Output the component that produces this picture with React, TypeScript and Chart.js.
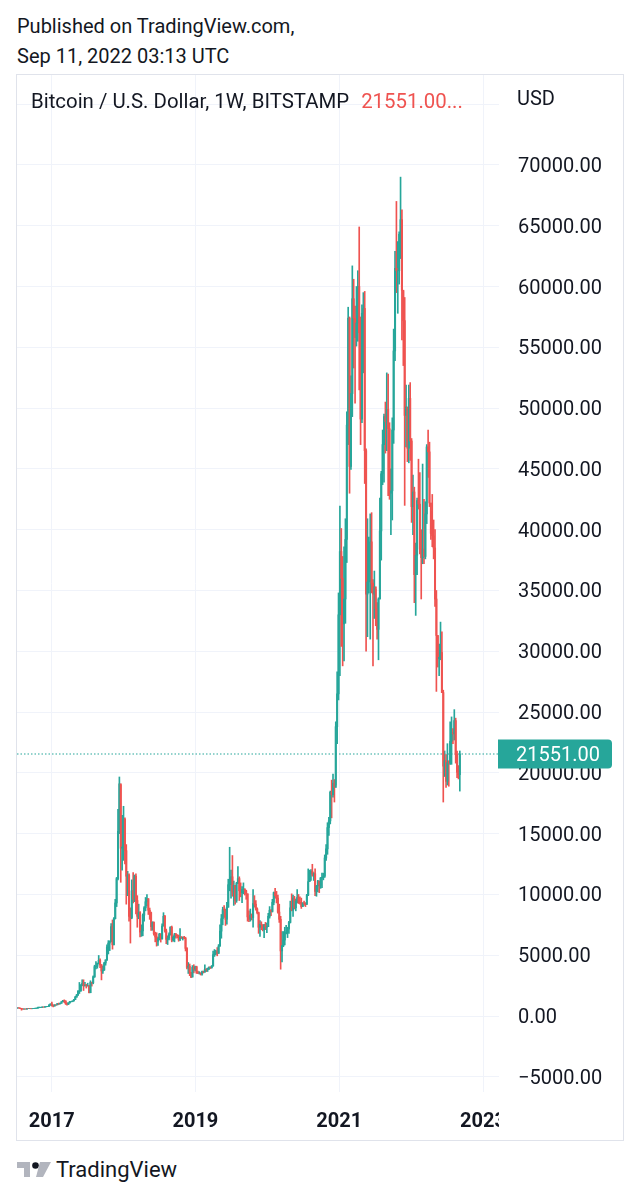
import React, { useEffect, useRef } from "react";
import { Chart, registerables } from "chart.js";

Chart.register(...registerables);

// ---- data (weekly BTC/USD candles, Bitstamp, weeks start Monday) ----
const firstWeek = "2016-07-11";
const firstOpen = 650;

const closes = [
  // 2016 (from Jul 11)
  675, 655, 624, 587, 568, 581, 573, 608, 607, 607, 600, 612, 618, 641, 656, 702, 704, 704, 740, 730, 765, 775, 790, 895, 998,
  // 2017
  900, 820, 920, 915, 1020, 995, 1050, 1180, 1270, 1230, 1020, 970, 1080, 1180, 1180, 1240, 1350, 1550, 1720, 2040, 2050, 2550,
  2680, 2500, 2550, 2500, 2500, 1920, 2760, 2730, 3230, 4060, 4090, 4330, 4580, 4200, 3700, 3780, 4360, 4610, 5680, 6000, 6150,
  7350, 5860, 8000, 9300, 11300, 15200, 19100, 13800, 13900,
  // 2018
  16200, 13600, 11500, 11600, 8200, 8100, 10300, 9600, 11500, 9500, 8200, 8500, 6900, 7000, 8300, 8900, 9400, 9650, 8700, 8500,
  7350, 7700, 6770, 6500, 6150, 6370, 6730, 6350, 7400, 8200, 7000, 6300, 6400, 6700, 7300, 6250, 6500, 6700, 6620, 6590, 6300,
  6500, 6440, 6480, 6380, 5560, 4000, 4100, 3600, 3200, 4000, 3850,
  // 2019 (from Dec 31, 2018)
  4050, 3550, 3540, 3540, 3450, 3650, 3610, 3830, 3800, 3910, 3990, 3980, 4110, 5050, 5150, 5300, 5150, 5750, 6980, 8000, 8750,
  8720, 7950, 8950, 10800, 10800, 11450, 10200, 10750, 9500, 10900, 11300, 10300, 10150, 10400, 10400, 10300, 10050, 8150, 7950,
  8300, 8100, 9250, 9200, 8800, 8500, 7300, 7550, 7500, 7100, 7500, 7300, 7350,
  // 2020
  8200, 8700, 8600, 9350, 10150, 9900, 9700, 8550, 7950, 5350, 5800, 6250, 6800, 6900, 7150, 7700, 8900, 8700, 9700, 8900, 9450,
  9750, 9350, 9300, 9000, 9300, 9250, 9200, 9950, 11050, 11700, 11900, 11650, 11700, 10250, 10700, 11100, 10750, 11350, 11400,
  11500, 13000, 13750, 15500, 16050, 18400, 18200, 19150, 18800, 23800, 26500, 33000,
  // 2021
  38200, 36000, 32250, 34300, 39200, 48600, 57400, 45200, 51200, 59000, 57400, 55800, 57000, 60000, 56200, 49100, 57800, 58200,
  46500, 34700, 35700, 35800, 39000, 35600, 34700, 35300, 33500, 31800, 34300, 39900, 44600, 47000, 49300, 48900, 49900, 48300,
  43000, 43200, 48200, 54700, 61500, 61300, 61300, 64300, 65500, 59700, 57200, 49400, 50100, 46700, 50800, 47300,
  // 2022
  41900, 43100, 36300, 37900, 42400, 42100, 38400, 37700, 38400, 37800, 41300, 46800, 46400, 42200, 39700, 39500, 38500, 34300,
  31300, 29400, 29500, 29900, 26600, 20550, 21000, 19300, 20850, 20800, 22600, 23300, 23200, 24300, 21500, 20050, 19850, 21551,
];

const highs = [
  // 2016
  680, 680, 660, 627, 600, 584, 588, 614, 633, 612, 610, 615, 620, 646, 660, 740, 740, 725, 755, 750, 770, 780, 795, 935, 1000,
  // 2017
  1150, 910, 930, 925, 1045, 1065, 1055, 1185, 1290, 1330, 1260, 1080, 1090, 1200, 1210, 1250, 1370, 1620, 1780, 2100, 2760, 2580,
  2980, 2980, 2780, 2600, 2700, 2500, 2900, 2790, 3300, 4180, 4480, 4360, 4980, 4700, 4240, 4100, 4420, 4630, 5850, 6200, 6180,
  7600, 7900, 8100, 9600, 11400, 17000, 19660, 19000, 16500,
  // 2018
  17250, 16300, 14100, 11900, 11700, 8900, 11200, 11800, 11600, 11700, 9900, 9200, 8600, 7500, 8400, 9000, 9750, 9990, 9650, 8880,
  8550, 7760, 7750, 6900, 6850, 6500, 6800, 6780, 7580, 8500, 8280, 7150, 6600, 6850, 7350, 7400, 6600, 6800, 6800, 6700, 6660,
  7200, 6530, 6500, 6550, 6480, 5620, 4400, 4280, 3600, 4150, 4220,
  // 2019
  4100, 4100, 3700, 3650, 3550, 3700, 3700, 4200, 3900, 3950, 4050, 4060, 4150, 5350, 5470, 5400, 5630, 5880, 7500, 8350, 8950,
  9090, 8800, 9350, 11250, 13880, 12000, 13200, 11100, 10650, 11000, 12300, 11450, 10950, 10650, 10950, 10480, 10350, 10050, 8650,
  8800, 8400, 10400, 9900, 9500, 8900, 8550, 7850, 7750, 7500, 7550, 7700, 7650,
  // 2020
  8450, 9000, 8750, 9600, 10200, 10500, 10250, 9950, 9200, 8200, 6950, 6950, 7300, 7450, 7300, 7780, 9450, 10050, 9950, 9850, 9600,
  10400, 10000, 9800, 9700, 9320, 9450, 9330, 10000, 12100, 12000, 12050, 12480, 11800, 12100, 10750, 11150, 11100, 11400, 11750,
  11750, 13250, 14100, 15900, 16350, 18500, 19400, 19900, 19450, 24200, 28300, 34800,
  // 2021
  41950, 40100, 37800, 38600, 40900, 49700, 58300, 57500, 52650, 61700, 60600, 58400, 60000, 61300, 64900, 57500, 58500, 59500,
  59600, 46650, 40900, 39400, 41300, 41400, 35900, 36600, 35100, 34000, 34400, 42600, 44800, 48200, 49500, 50500, 52900, 52800,
  48800, 45000, 49200, 56500, 62900, 67000, 63700, 64500, 69000, 66300, 59600, 59100, 51900, 49500, 51900, 52100,
  // 2022
  47500, 44500, 43500, 38900, 42600, 45800, 44700, 40000, 45400, 42500, 42300, 47000, 48200, 47200, 41500, 42900, 40800, 40000,
  35000, 31300, 30600, 32400, 31600, 26800, 21800, 21500, 22400, 21000, 24200, 24600, 23650, 25200, 24500, 21800, 20600, 21800,
];

const lows = [
  // 2016
  645, 648, 610, 480, 562, 563, 566, 568, 604, 600, 592, 598, 606, 631, 626, 650, 680, 690, 700, 725, 725, 750, 770, 790, 880,
  // 2017
  810, 750, 810, 880, 915, 945, 985, 1050, 1180, 1100, 950, 890, 940, 1060, 1150, 1170, 1240, 1350, 1550, 1700, 1850, 2050,
  2480, 2100, 2460, 2300, 2450, 1900, 1910, 2460, 2650, 3170, 3880, 3930, 4280, 3980, 2970, 3500, 3750, 4180, 4580, 5100, 5380,
  6100, 5500, 5850, 7980, 9000, 11200, 15000, 11000, 12000,
  // 2018
  12800, 12500, 9200, 9900, 7800, 6000, 8000, 9300, 9400, 8400, 7300, 8000, 6500, 6550, 6600, 7800, 8650, 9050, 8350, 7950,
  7050, 7050, 6650, 6100, 5750, 5800, 6250, 6080, 6330, 7400, 6900, 5950, 5880, 6250, 6650, 6100, 6150, 6100, 6400, 6430, 6150,
  6200, 6370, 6250, 6360, 5350, 3870, 3500, 3320, 3150, 3210, 3550,
  // 2019
  3700, 3500, 3480, 3450, 3370, 3350, 3540, 3600, 3650, 3660, 3820, 3900, 3930, 4100, 4900, 5030, 4950, 5150, 5750, 6400, 7500,
  8100, 7450, 7550, 8950, 10300, 9700, 9850, 9100, 9200, 9350, 10900, 9500, 9800, 9320, 10050, 9950, 9600, 7800, 7750,
  7800, 7900, 7300, 8950, 8700, 8400, 6800, 6550, 7100, 7000, 6450, 7100, 6850,
  // 2020
  7700, 8050, 8250, 8550, 9150, 9700, 9300, 8450, 7700, 3850, 4450, 5700, 5850, 6750, 6450, 6800, 7650, 8650, 8200, 8800, 8650,
  9300, 9250, 9200, 8850, 9000, 9100, 9000, 9150, 9900, 11100, 11150, 11500, 11150, 9900, 9850, 10200, 10150, 10500, 10550,
  11200, 11400, 12800, 13300, 14850, 15800, 16300, 18000, 17600, 19000, 22400, 26000,
  // 2021
  28000, 30400, 28800, 29200, 32300, 37300, 47000, 43000, 44950, 49300, 53300, 50400, 55100, 55500, 51500, 47000, 48800, 52900,
  43800, 30000, 31200, 34800, 31000, 34800, 28800, 32700, 32100, 31000, 29300, 34300, 37500, 43700, 43900, 46300, 46500, 42800,
  42500, 39600, 40800, 47100, 53900, 59500, 57800, 60200, 62300, 55600, 53500, 42000, 46800, 45600, 45500, 45700,
  // 2022
  40600, 39600, 34000, 32950, 36300, 41700, 38000, 34300, 37200, 37200, 37600, 40500, 44300, 41900, 39200, 38600, 37600, 33700,
  26700, 28700, 28000, 29300, 26600, 17600, 19700, 18800, 19000, 18900, 20700, 20700, 22400, 22700, 20800, 19600, 19500, 18500,
];

const yearTicks = [2017, 2019, 2021, 2023];
const priceTicks = [-5000, 0, 5000, 10000, 15000, 20000, 25000, 30000, 35000, 40000, 45000, 50000, 55000, 60000, 65000, 70000, 75000];
const lastPrice = 21551;
const symbolTitle = "Bitcoin / U.S. Dollar, 1W, BITSTAMP";
const currency = "USD";

const UP = "#26a69a";
const DOWN = "#ef5350";
const GRID = "#f0f3fa";
const TEXT = "#131722";

const DAY = 86400000;
const xMin = Date.UTC(2016, 6, 9);
const xMax = Date.UTC(2023, 2, 23);
const yMin = -6250;
const yMax = 77400;

const fmt = (v: number) => (v < 0 ? "\u2212" + Math.abs(v).toFixed(2) : v.toFixed(2));

export default function App() {
  const ref = useRef<HTMLCanvasElement | null>(null);

  useEffect(() => {
    const t0 = Date.parse(firstWeek + "T00:00:00Z");
    const candles = closes.map((c, i) => ({
      x: t0 + i * 7 * DAY,
      o: i === 0 ? firstOpen : closes[i - 1],
      h: highs[i],
      l: lows[i],
      c,
    }));
    const colors = candles.map((k) => (k.c >= k.o ? UP : DOWN));

    const priceLabel = {
      id: "priceLabel",
      afterDraw(chart: any) {
        const { ctx, chartArea, scales } = chart;
        ctx.save();
        // price-scale pane covers overflowing time labels
        ctx.fillStyle = "#ffffff";
        ctx.fillRect(chartArea.right, chartArea.bottom + 1, chart.width - chartArea.right, chart.height - chartArea.bottom);
        const py = scales.y.getPixelForValue(lastPrice);
        const x0 = chartArea.right - 1;
        ctx.fillStyle = UP;
        ctx.beginPath();
        (ctx as any).roundRect(x0, py - 14.5, 114, 29, [0, 4, 4, 0]);
        ctx.fill();
        ctx.fillStyle = "#ffffff";
        ctx.font = "20px Roboto";
        ctx.textBaseline = "middle";
        ctx.textAlign = "left";
        ctx.fillText(lastPrice.toFixed(2), chartArea.right + 17, py + 1.5);
        ctx.restore();
      },
    };

    const chart = new Chart(ref.current as HTMLCanvasElement, {
      type: "bar",
      data: {
        datasets: [
          {
            type: "line",
            data: [
              { x: xMin, y: lastPrice },
              { x: xMax, y: lastPrice },
            ],
            borderColor: UP,
            borderWidth: 1.2,
            borderDash: [1.5, 2],
            pointRadius: 0,
            order: 3,
          } as any,
          {
            data: candles.map((k) => ({ x: k.x, y: [k.l, k.h] })),
            backgroundColor: colors,
            barThickness: 1,
            grouped: false,
            order: 2,
          } as any,
          {
            data: candles.map((k) => ({ x: k.x, y: [k.o, k.c] })),
            backgroundColor: colors,
            barThickness: 1.4,
            grouped: false,
            order: 1,
          } as any,
        ],
      },
      options: {
        animation: false,
        responsive: false,
        maintainAspectRatio: false,
        events: [],
        layout: { padding: 0, autoPadding: false } as any,
        plugins: { legend: { display: false }, tooltip: { enabled: false } },
        scales: {
          x: {
            type: "linear",
            bounds: "data",
            min: xMin,
            max: xMax,
            offset: false,
            grid: { color: GRID, drawTicks: false, offset: false },
            border: { display: false },
            afterBuildTicks: (s: any) => {
              s.ticks = yearTicks.map((y) => ({ value: Date.UTC(y, 0, 1) }));
            },
            afterFit: (s: any) => {
              s.height = 48;
              s.paddingLeft = 0;
              s.paddingRight = 0;
            },
            ticks: {
              autoSkip: false,
              maxRotation: 0,
              padding: 18,
              color: TEXT,
              font: { family: "Roboto", size: 20, weight: "bold" },
              callback: (v: any) => String(new Date(Number(v)).getUTCFullYear()),
            },
          },
          y: {
            position: "right",
            bounds: "data",
            min: yMin,
            max: yMax,
            grid: { color: GRID, drawTicks: false },
            border: { display: false },
            afterBuildTicks: (s: any) => {
              s.ticks = priceTicks.map((v) => ({ value: v }));
            },
            afterFit: (s: any) => {
              s.width = 124;
              s.paddingTop = 0;
              s.paddingBottom = 0;
            },
            ticks: {
              padding: 19,
              labelOffset: 2,
              crossAlign: "near",
              color: TEXT,
              font: { family: "Roboto", size: 20 },
              callback: (v: any) => (Number(v) === 75000 ? "" : fmt(Number(v))),
            },
          },
        },
      } as any,
      plugins: [priceLabel],
    });
    return () => chart.destroy();
  }, []);

  return (
    <div
      style={{
        position: "absolute",
        left: 0,
        top: 0,
        width: 637,
        height: 1200,
        background: "#ffffff",
        fontFamily: "Roboto, sans-serif",
        color: TEXT,
      }}
    >
      <div style={{ position: "absolute", left: 17, top: 11, fontSize: 20, lineHeight: "30px" }}>
        <div>Published on TradingView.com,</div>
        <div>Sep 11, 2022 03:13 UTC</div>
      </div>
      <canvas
        ref={ref}
        width={606}
        height={1065}
        style={{ position: "absolute", left: 17, top: 75, width: 606, height: 1065 }}
      />
      <div
        style={{
          position: "absolute",
          left: 16,
          top: 74,
          width: 608,
          height: 1067,
          boxSizing: "border-box",
          border: "1px solid #e0e3eb",
          pointerEvents: "none",
        }}
      />
      <div style={{ position: "absolute", left: 31, top: 89, fontSize: 20.4, lineHeight: "24px", whiteSpace: "nowrap" }}>
        {symbolTitle}
        <span style={{ color: DOWN, marginLeft: 12 }}>{lastPrice.toFixed(2)}...</span>
      </div>
      <div style={{ position: "absolute", left: 517, top: 86, fontSize: 20, lineHeight: "24px" }}>{currency}</div>
      <svg
        style={{ position: "absolute", left: 17, top: 1162 }}
        width={34}
        height={16}
        viewBox="0 0 34 16"
      >
        <path d="M0 0 H13 V15 H7 V6 H0 Z" fill="#b2b5be" />
        <circle cx={18.5} cy={3.5} r={3.3} fill="#131722" />
        <path d="M23 0 H34 L26 15 H19 Z" fill="#b2b5be" />
      </svg>
      <div style={{ position: "absolute", left: 56, top: 1156, fontSize: 22, lineHeight: "28px" }}>TradingView</div>
    </div>
  );
}
